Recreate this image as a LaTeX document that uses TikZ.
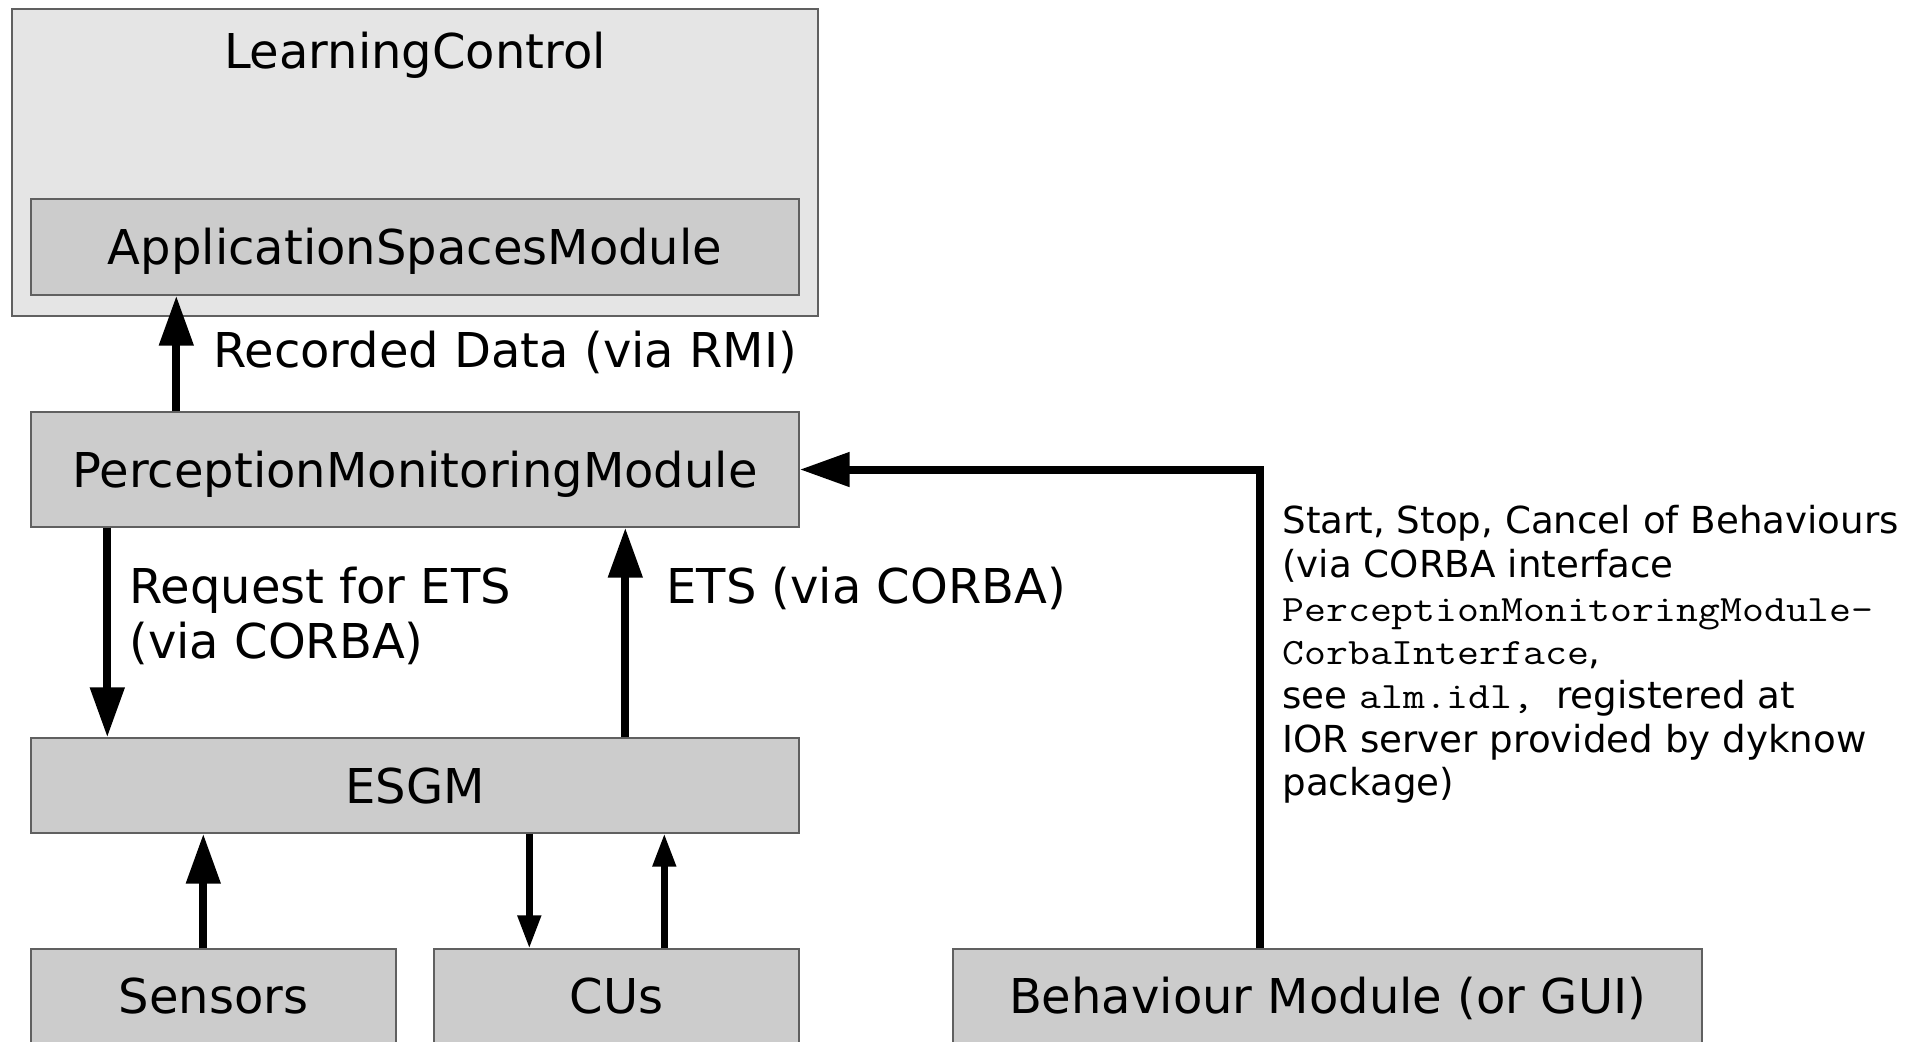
\documentclass[tikz,border=0pt]{standalone}
\usepackage{fontspec}
\setmainfont{DejaVu Sans}
\setmonofont[FakeStretch=1.143]{Latin Modern Mono}
\usetikzlibrary{arrows.meta}
\definecolor{frameline}{HTML}{606060}
\definecolor{outerfill}{HTML}{E5E5E5}
\definecolor{modfill}{HTML}{CCCCCC}
\tikzset{
  module/.style={draw=frameline, line width=0.7pt, fill=modfill, inner sep=0pt,
    font=\fontsize{24pt}{27.5pt}\selectfont, text height=17.5pt, text depth=0pt},
  container/.style={draw=frameline, line width=0.7pt, fill=outerfill, inner sep=0pt},
  biglabel/.style={inner sep=0pt, font=\fontsize{24pt}{27.5pt}\selectfont},
  sidelabel/.style={inner sep=0pt, align=left, font=\fontsize{18.6pt}{21.85pt}\selectfont},
  flow/.style={line width=4pt, -{Triangle[length=25pt,width=16.5pt]}},
  thinflow/.style={line width=3.2pt, -{Triangle[length=16.5pt,width=11.25pt]}},
}
\begin{document}
\begin{tikzpicture}[x=0.5pt, y=-0.5pt]
  \useasboundingbox (0,0) rectangle (1920,1041);

  % LearningControl with its embedded module
  \node[container, minimum width=403pt, minimum height=153.5pt] (lc) at (415,162.5) {};
  \node[biglabel, anchor=base] (lctitle) at (415,68) {LearningControl};
  \node[module, minimum width=384pt, minimum height=48pt] (asm) at (415,247) {ApplicationSpacesModule};

  % processing chain
  \node[module, minimum width=384pt, minimum height=57.5pt] (pmm) at (415,469.5) {PerceptionMonitoringModule};
  \node[module, minimum width=384pt, minimum height=47.5pt] (esgm) at (415,785.5) {ESGM};
  \node[module, minimum width=182.5pt, minimum height=47pt] (sensors) at (213.5,996) {Sensors};
  \node[module, minimum width=182.5pt, minimum height=47pt] (cus) at (616.5,996) {CUs};
  \node[module, minimum width=374.5pt, minimum height=47pt] (beh) at (1327.5,996) {Behaviour Module (or GUI)};

  % data flows
  \draw[flow] ([xshift=73pt]pmm.north west) -- ([xshift=73pt]asm.south west);
  \node[biglabel, anchor=base west] (reclabel) at (213,367) {Recorded Data (via RMI)};

  \draw[flow] ([xshift=38.5pt]pmm.south west) -- ([xshift=38.5pt]esgm.north west);
  \node[biglabel, align=left, anchor=north west] (reqlabel) at (129,566.5) {Request for ETS\\(via CORBA)};

  \draw[flow] ([xshift=297.5pt]esgm.north west) -- ([xshift=297.5pt]pmm.south west);
  \node[biglabel, anchor=base west] (etslabel) at (666,603) {ETS (via CORBA)};

  \draw[flow] ([xshift=86.5pt]sensors.north west) -- ([xshift=86.5pt]esgm.south west);
  \draw[thinflow] ([xshift=249.5pt]esgm.south west) -- ([xshift=48pt]cus.north west);
  \draw[thinflow] ([xshift=115.5pt]cus.north west) -- ([xshift=317pt]esgm.south west);

  % behaviour control
  \coordinate (bend) at (1260,469.5);
  \draw[flow] (bend |- beh.north) -- (bend) -- (pmm.east);
  \node[sidelabel, anchor=north west] (behlabel) at (1282,505) {Start, Stop, Cancel of Behaviours\\(via CORBA interface\\\texttt{PerceptionMonitoringModule-}\\\texttt{CorbaInterface},\\see \texttt{alm.idl,\ }registered at\\IOR server provided by dyknow\\package)};
\end{tikzpicture}
\end{document}
